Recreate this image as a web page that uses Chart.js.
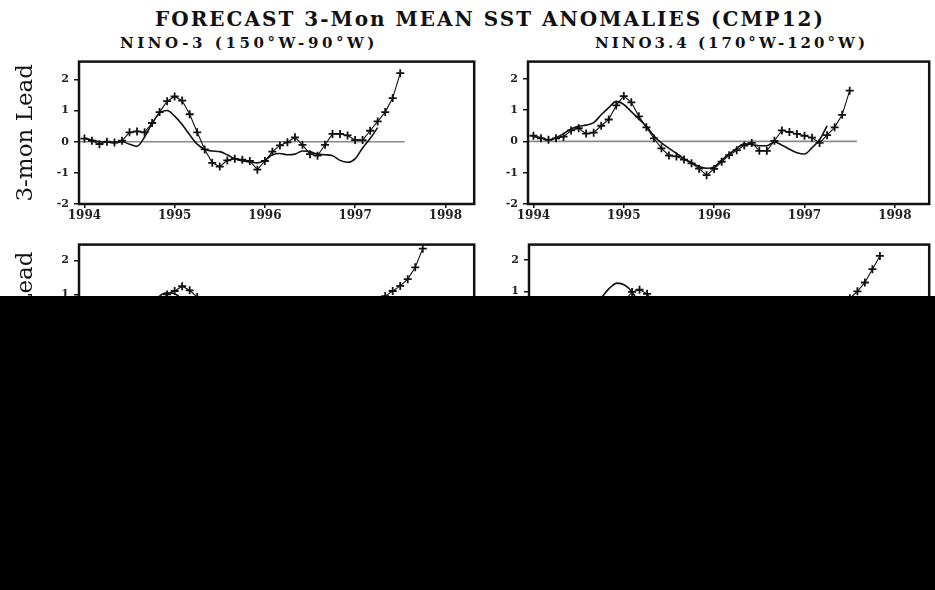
<!DOCTYPE html>
<html><head><meta charset="utf-8">
<script src="https://cdn.jsdelivr.net/npm/chart.js@4.4.1/dist/chart.umd.min.js"></script>
<style>
html,body{margin:0;padding:0;background:#fff;}
body{width:935px;height:590px;position:relative;overflow:hidden;}
.txt{position:absolute;white-space:nowrap;font-family:"DejaVu Serif",serif;color:#111;line-height:1;}
#title{top:9px;font-size:20px;font-weight:bold;}
.sub{top:36px;font-size:15px;font-weight:bold;}
.cv{position:absolute;}
#mask{position:absolute;left:0;top:296px;width:935px;height:294px;background:#000;}
</style></head>
<body>
<div id="title" class="txt">FORECAST 3-Mon MEAN SST ANOMALIES (CMP12)</div>
<div id="sub1" class="txt sub">NINO-3 (150°W-90°W)</div>
<div id="sub2" class="txt sub">NINO3.4 (170°W-120°W)</div>
<canvas id="c1" class="cv" width="480" height="175" style="left:0;top:50px"></canvas>
<canvas id="c2" class="cv" width="455" height="175" style="left:480px;top:50px"></canvas>
<canvas id="c3" class="cv" width="480" height="184" style="left:0;top:233px"></canvas>
<canvas id="c4" class="cv" width="455" height="174" style="left:480px;top:233px"></canvas>
<div id="mask"></div>
<script>
// ---------------- DATA ----------------
const yearTicks = [1994, 1995, 1996, 1997, 1998];
const valueTicks = [-2, -1, 0, 1, 2];

const monthsTop = ["1994-01","1994-02","1994-03","1994-04","1994-05","1994-06","1994-07","1994-08","1994-09","1994-10","1994-11","1994-12",
 "1995-01","1995-02","1995-03","1995-04","1995-05","1995-06","1995-07","1995-08","1995-09","1995-10","1995-11","1995-12",
 "1996-01","1996-02","1996-03","1996-04","1996-05","1996-06","1996-07","1996-08","1996-09","1996-10","1996-11","1996-12",
 "1997-01","1997-02","1997-03","1997-04","1997-05","1997-06","1997-07"];

// NINO-3, 3-month lead
const nino3Obs = [0.10,0.03,-0.08,0.00,-0.03,0.03,0.30,0.33,0.30,0.60,0.95,1.30,
 1.45,1.32,0.88,0.30,-0.25,-0.68,-0.80,-0.60,-0.55,-0.58,-0.62,-0.90,
 -0.62,-0.32,-0.12,-0.02,0.14,-0.10,-0.40,-0.45,-0.10,0.25,0.25,0.20,
 0.05,0.05,0.35,0.65,0.95,1.40,2.20];
const nino3Fcst = [0.12,0.05,0.00,-0.02,-0.03,0.00,-0.08,-0.15,0.15,0.58,0.92,1.00,
 0.82,0.55,0.22,-0.08,-0.25,-0.30,-0.32,-0.42,-0.55,-0.62,-0.65,-0.68,
 -0.60,-0.42,-0.38,-0.42,-0.40,-0.30,-0.32,-0.40,-0.42,-0.45,-0.60,-0.66,
 -0.55,-0.20,0.10,0.45,null,null,null];

// NINO3.4, 3-month lead
const nino34Obs = [0.18,0.10,0.05,0.10,0.15,0.35,0.42,0.25,0.28,0.50,0.70,1.15,
 1.45,1.25,0.80,0.45,0.10,-0.22,-0.45,-0.48,-0.58,-0.70,-0.87,-1.08,
 -0.88,-0.65,-0.44,-0.28,-0.13,-0.05,-0.30,-0.30,0.02,0.35,0.30,0.24,
 0.18,0.12,-0.05,0.20,0.45,0.85,1.62];
const nino34Fcst = [0.15,0.12,0.05,0.12,0.25,0.40,0.48,0.52,0.60,0.85,1.08,1.28,
 1.18,0.95,0.72,0.48,0.18,-0.05,-0.22,-0.38,-0.55,-0.68,-0.80,-0.86,
 -0.82,-0.60,-0.40,-0.22,-0.08,-0.10,-0.14,-0.14,-0.02,-0.12,-0.25,-0.36,
 -0.40,-0.20,0.05,0.50,null,null,null];

const monthsBottom = monthsTop.concat(["1997-08","1997-09","1997-10","1997-11"]);
const _ = null;
// Second row (only the upper part is visible)
const lead6Nino3Obs = [_,_,_,_,_,_,_,_,_,_,0.75,1.00,
 1.10,1.24,1.12,0.92,0.60,_,_,_,_,_,_,_,
 _,_,_,_,_,_,_,_,_,_,_,_,
 _,_,_,0.75,0.95,1.10,1.25,1.45,1.80,2.35,_];
const lead6Nino3Fcst = [_,_,_,_,_,_,_,_,_,0.60,0.95,1.05,
 1.02,0.85,0.50,_,_,_,_,_,_,_,_,_,
 _,_,_,_,_,_,_,_,_,_,_,_,
 _,_,_,_,_,_,_,_,_,_,_];
const lead6Nino34Obs = [_,_,_,_,_,_,_,_,_,_,_,_,
 0.70,0.98,1.05,0.92,0.60,_,_,_,_,_,_,_,
 _,_,_,_,_,_,_,_,_,_,_,_,
 _,_,_,_,_,0.55,0.78,1.00,1.28,1.70,2.12];
const lead6Nino34Fcst = [_,_,_,_,_,_,_,_,0.50,0.82,1.10,1.26,
 1.20,0.98,0.60,_,_,_,_,_,_,_,_,_,
 _,_,_,_,_,_,_,_,_,_,_,_,
 _,_,_,_,_,_,_,_,_,_,_];

// ---------------- HELPERS ----------------
function decYear(s){ const [y,m]=s.split('-').map(Number); return y+(m-1)/12; }
function pts(months, vals){ return months.map((m,i)=>({x:decYear(m), y:vals[i]})); }

const SERIF = '"DejaVu Serif", serif';

const borderPlugin = {
  id:'boxBorder',
  afterDatasetsDraw(chart){
    const {ctx, chartArea:a} = chart;
    ctx.save();
    ctx.strokeStyle = '#111';
    ctx.lineWidth = 2.5;
    ctx.strokeRect(a.left, a.top, a.right-a.left, a.bottom-a.top);
    ctx.restore();
  }
};

function makeChart(id, cfg){
  const datasets = [
    { data: [{x:1993.94,y:0},{x:cfg.zeroEnd,y:0}], borderColor:'#8a8a8a', borderWidth:1.6, pointRadius:0, order:3 },
    { data: pts(cfg.months, cfg.fcst), borderColor:'#111', borderWidth:1.6, pointRadius:0,
      cubicInterpolationMode:'monotone', spanGaps:false, order:2 },
    { data: pts(cfg.months, cfg.obs), borderColor:'#111', borderWidth:1.1, pointStyle:'cross',
      pointRadius:4, pointBorderWidth:1.8, pointBorderColor:'#111', spanGaps:false, order:1 }
  ];
  return new Chart(document.getElementById(id), {
    type:'line',
    data:{ datasets },
    plugins:[borderPlugin],
    options:{
      responsive:false, animation:false, devicePixelRatio:1,
      layout:{ padding:{ top:10, right:5, left:0, bottom:0 } },
      plugins:{ legend:{display:false}, tooltip:{enabled:false} },
      elements:{ line:{ tension:0 } },
      scales:{
        x:{ type:'linear', min:1993.94, max:cfg.xmax,
            afterBuildTicks(s){ s.ticks = yearTicks.map(v=>({value:v})); },
            afterFit(s){ s.height = 21; },
            grid:{ drawOnChartArea:false, drawTicks:true, tickLength:4, color:'#111', lineWidth:1.5 },
            border:{ display:false },
            ticks:{ autoSkip:false, maxRotation:0, padding:1, color:'#222',
                    font:{ family:SERIF, size:12, weight:'bold' },
                    callback:v=>String(v) } },
        y:{ type:'linear', min:-2, max:cfg.ymax,
            afterBuildTicks(s){ s.ticks = valueTicks.map(v=>({value:v})); },
            afterFit(s){ s.width = cfg.yw; },
            grid:{ drawOnChartArea:false, drawTicks:true, tickLength:5, color:'#111', lineWidth:1.5 },
            border:{ display:false },
            ticks:{ autoSkip:false, padding:5, color:'#222',
                    font:{ family:SERIF, size:11, weight:'bold' },
                    callback:v=>String(v) },
            title:{ display:!!cfg.ytitle, text:cfg.ytitle||'', color:'#111',
                    font:{ family:SERIF, size:23 }, padding:{ top:12, bottom:0 } } }
      }
    }
  });
}

makeChart('c1', { months:monthsTop, obs:nino3Obs, fcst:nino3Fcst, zeroEnd:1997.55, xmax:1998.32, ymax:2.57, yw:79, ytitle:'3-mon Lead' });
makeChart('c2', { months:monthsTop, obs:nino34Obs, fcst:nino34Fcst, zeroEnd:1997.58, xmax:1998.38, ymax:2.55, yw:48 });
makeChart('c3', { months:monthsBottom, obs:lead6Nino3Obs, fcst:lead6Nino3Fcst, zeroEnd:1997.8, xmax:1998.32, ymax:2.47, yw:79, ytitle:'6-mon Lead' });
makeChart('c4', { months:monthsBottom, obs:lead6Nino34Obs, fcst:lead6Nino34Fcst, zeroEnd:1997.85, xmax:1998.38, ymax:2.48, yw:49 });

// fit header text to measured extents of the reference
function fit(id, left, width){
  const el = document.getElementById(id);
  el.style.letterSpacing = '0px';
  const w = el.getBoundingClientRect().width;
  const n = el.textContent.length;
  el.style.letterSpacing = ((width - w) / n) + 'px';
  el.style.left = left + 'px';
}
fit('title', 155, 670);
fit('sub1', 120, 258);
fit('sub2', 595, 273);
</script>
</body></html>
